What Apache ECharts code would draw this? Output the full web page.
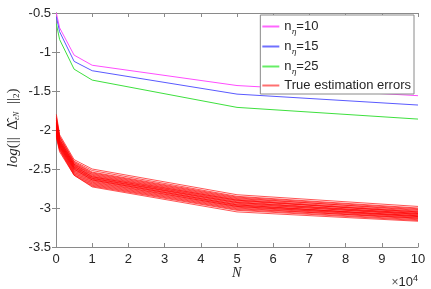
<!DOCTYPE html>
<html><head><meta charset="utf-8">
<script src="https://cdn.jsdelivr.net/npm/echarts@6/dist/echarts.min.js"></script>
<style>html,body{margin:0;padding:0;background:#fff}#c{width:431px;height:289px}</style>
</head><body><div id="c"></div>
<script>
// N values in units of 10^4
const nValues = [0.01, 0.1, 0.5, 1, 5, 10];
const bound10 = [-0.50, -0.69, -1.04, -1.17, -1.43, -1.56];
const bound15 = [-0.55, -0.74, -1.12, -1.24, -1.54, -1.68];
const bound25 = [-0.64, -0.84, -1.22, -1.36, -1.71, -1.86];
const trueErrors = [
  [-1.80,-2.06,-2.38,-2.50,-2.83,-2.98],
  [-1.83,-2.08,-2.40,-2.52,-2.85,-3.00],
  [-1.85,-2.09,-2.41,-2.54,-2.86,-3.01],
  [-1.87,-2.10,-2.42,-2.55,-2.87,-3.03],
  [-1.88,-2.12,-2.43,-2.56,-2.88,-3.02],
  [-1.90,-2.12,-2.44,-2.57,-2.89,-3.04],
  [-1.91,-2.13,-2.44,-2.58,-2.90,-3.05],
  [-1.92,-2.14,-2.45,-2.59,-2.90,-3.06],
  [-1.93,-2.15,-2.46,-2.60,-2.91,-3.05],
  [-1.94,-2.15,-2.46,-2.60,-2.92,-3.07],
  [-1.95,-2.16,-2.47,-2.61,-2.93,-3.08],
  [-1.96,-2.17,-2.48,-2.62,-2.93,-3.07],
  [-1.97,-2.17,-2.48,-2.62,-2.94,-3.09],
  [-1.98,-2.18,-2.49,-2.63,-2.95,-3.08],
  [-1.99,-2.19,-2.50,-2.64,-2.96,-3.10],
  [-2.00,-2.19,-2.50,-2.64,-2.96,-3.11],
  [-2.01,-2.20,-2.51,-2.65,-2.97,-3.10],
  [-2.02,-2.21,-2.52,-2.66,-2.98,-3.12],
  [-2.03,-2.21,-2.53,-2.67,-2.98,-3.11],
  [-2.04,-2.22,-2.54,-2.68,-2.99,-3.13],
  [-2.05,-2.23,-2.55,-2.69,-3.00,-3.14],
  [-2.06,-2.24,-2.56,-2.70,-3.01,-3.13],
  [-2.07,-2.25,-2.57,-2.71,-3.02,-3.15],
  [-2.08,-2.26,-2.58,-2.72,-3.03,-3.16],
  [-2.10,-2.28,-2.58,-2.73,-3.05,-3.17]
];
const legendNames = ['n_η=10', 'n_η=15', 'n_η=25', 'True estimation errors'];
const legendColors = ['#ff66ff', '#7070ff', '#66ee66', '#ff7070'];
const lineColors = ['#ff4dff', '#5a5aff', '#3ee03e'];

const pair = ys => nValues.map((x, i) => [x, ys[i]]);
const F = 'Liberation Sans, Arial, sans-serif';
const axisCol = '#8a8a8a';
const txtCol = '#262626';

const series = [];
trueErrors.forEach((ys) => {
  series.push({
    name: legendNames[3], type: 'line', data: pair(ys), symbol: 'none',
    lineStyle: { color: '#ff0000', width: 0.9, opacity: 0.75 }, itemStyle: { color: legendColors[3] },
    silent: true, z: 2
  });
});
[bound10, bound15, bound25].forEach((ys, i) => {
  series.push({
    name: legendNames[i], type: 'line', data: pair(ys), symbol: 'none',
    lineStyle: { color: lineColors[i], width: 1 }, itemStyle: { color: legendColors[i] }, z: 3
  });
});

const tickCfg = { show: true, inside: true, length: 4, lineStyle: { color: axisCol } };
const lineCfg = { show: true, lineStyle: { color: axisCol, width: 1 } };

const chart = echarts.init(document.getElementById('c'), null, { renderer: 'canvas' });
chart.setOption({
  animation: false,
  backgroundColor: '#fff',
  grid: { left: 56, right: 13, top: 13, bottom: 42, containLabel: false },
  xAxis: [
    { type: 'value', min: 0, max: 10, interval: 1, position: 'bottom',
      axisLine: lineCfg, axisTick: tickCfg, splitLine: { show: false },
      axisLabel: { color: txtCol, fontFamily: F, fontSize: 13, margin: 6 } },
    { type: 'value', min: 0, max: 10, interval: 1, position: 'top',
      axisLine: lineCfg, axisTick: tickCfg, splitLine: { show: false }, axisLabel: { show: false } }
  ],
  yAxis: [
    { type: 'value', min: -3.5, max: -0.5, interval: 0.5, position: 'left',
      axisLine: lineCfg, axisTick: tickCfg, splitLine: { show: false },
      axisLabel: { color: txtCol, fontFamily: F, fontSize: 13, margin: 5 } },
    { type: 'value', min: -3.5, max: -0.5, interval: 0.5, position: 'right',
      axisLine: lineCfg, axisTick: tickCfg, splitLine: { show: false }, axisLabel: { show: false } }
  ],
  legend: {
    data: legendNames.map((n, i) => ({ name: n, icon: 'rect', itemStyle: { color: legendColors[i], borderWidth: 0 } })),
    orient: 'vertical', right: 17, top: 15,
    backgroundColor: '#fff', borderColor: '#8a8a8a', borderWidth: 1, borderRadius: 0,
    padding: [2, 3, 0, 2], itemGap: 1, itemWidth: 17, itemHeight: 2,
    textStyle: { color: txtCol, fontFamily: F, fontSize: 13,
      rich: {
        a: { fontFamily: F, fontSize: 13, color: txtCol, lineHeight: 17, height: 17 },
        s: { fontFamily: 'DejaVu Serif, serif', fontStyle: 'italic', fontSize: 8, color: txtCol, lineHeight: 6, padding: [11, 0, 0, 0] }
      } },
    formatter: n => {
      if (n.startsWith('n_η')) return '{a|n}{s|η}{a|' + n.slice(3) + '}';
      return '{a|' + n + '}';
    }
  },
  graphic: [
    { type: 'text', left: 232, top: 266,
      style: { text: 'N', font: 'italic 14px "Liberation Serif", serif', fill: txtCol } },
    { type: 'text', right: 13, top: 274,
      style: { text: '{x|×}10{sup|4}', fill: txtCol, font: '13px "Liberation Sans", Arial',
        rich: { x: { fontSize: 12, fontFamily: F, fill: '#555' },
                sup: { fontSize: 9, fontFamily: F, fill: txtCol, padding: [0, 0, 8, 0] } } } },
    { type: 'text', x: 13, y: 128, rotation: Math.PI / 2,
      style: { text: '{i|log}{n|(||  }{d|Δ̂}{s|εN}{n|  ||}{s2|2}{n|)}',
        align: 'center', verticalAlign: 'middle', fill: txtCol,
        rich: {
          i: { fontFamily: 'Liberation Serif, serif', fontStyle: 'italic', fontSize: 15, fill: txtCol },
          n: { fontFamily: 'Liberation Serif, serif', fontSize: 15, fill: txtCol },
          d: { fontFamily: 'Liberation Serif, serif', fontSize: 15, fill: txtCol },
          s: { fontFamily: 'Liberation Serif, serif', fontStyle: 'italic', fontSize: 8, fill: txtCol, padding: [8, 0, 0, 0] },
          s2: { fontFamily: 'Liberation Serif, serif', fontSize: 9, fill: txtCol, padding: [8, 0, 0, 0] }
        } } }
  ],
  series: series
});
</script></body></html>
